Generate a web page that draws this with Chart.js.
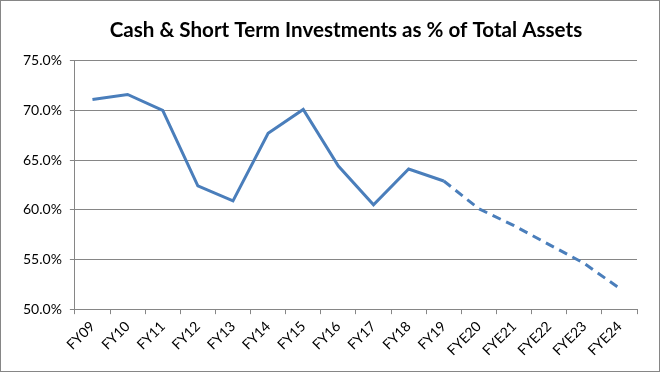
<!DOCTYPE html>
<html>
<head>
<meta charset="utf-8">
<script src="https://cdn.jsdelivr.net/npm/chart.js@4"></script>
<style>
  html, body { margin: 0; padding: 0; background: #fff; }
  #wrap { width: 660px; height: 372px; box-sizing: border-box; border: 1px solid #868686; position: relative; }
</style>
</head>
<body>
<div id="wrap"><canvas id="grafico"></canvas></div>
<script>
const anos = ['FY09', 'FY10', 'FY11', 'FY12', 'FY13', 'FY14', 'FY15', 'FY16', 'FY17', 'FY18', 'FY19',
              'FYE20', 'FYE21', 'FYE22', 'FYE23', 'FYE24'];
const percentuais = [71.1, 71.6, 70.0, 62.4, 60.9, 67.7, 70.1, 64.4, 60.5, 64.1, 62.9,
                     60.1, 58.4, 56.5, 54.6, 52.1];
const ultimoReal = 10; // FY19, depois disso é projeção (tracejado)

const ctx = document.getElementById('grafico').getContext('2d');
new Chart(ctx, {
  type: 'line',
  data: {
    labels: anos,
    datasets: [{
      data: percentuais,
      borderColor: '#4a7ebb',
      borderWidth: 3,
      pointRadius: 0,
      tension: 0,
      segment: {
        borderDash: c => c.p0DataIndex >= ultimoReal ? [9, 6] : undefined
      }
    }]
  },
  options: {
    responsive: true,
    maintainAspectRatio: false,
    animation: false,
    layout: { padding: { left: 14, right: 22, top: 4, bottom: 8 } },
    plugins: {
      legend: { display: false },
      tooltip: { enabled: false },
      title: {
        display: true,
        fullSize: false,
        // espaços no fim empurram o título um pouco para a esquerda
        text: 'Cash & Short Term Investments as % of Total Assets    ',
        color: '#000',
        font: { family: 'Lato', size: 20.6, weight: 'bold' },
        padding: { top: 13, bottom: 18 }
      }
    },
    scales: {
      x: {
        offset: true,
        grid: { offset: true, drawOnChartArea: false, drawTicks: true, tickLength: 5, color: '#868686' },
        border: { color: '#868686', width: 1 },
        ticks: {
          color: '#000',
          font: { family: 'Lato', size: 14 },
          minRotation: 45,
          maxRotation: 45,
          autoSkip: false,
          padding: 4
        }
      },
      y: {
        min: 50,
        max: 75,
        grid: { color: '#868686', tickLength: 5 },
        border: { color: '#868686', width: 1 },
        ticks: {
          stepSize: 5,
          color: '#000',
          font: { family: 'Lato', size: 14 },
          padding: 8,
          callback: v => v.toFixed(1) + '%'
        }
      }
    }
  }
});
</script>
</body>
</html>
